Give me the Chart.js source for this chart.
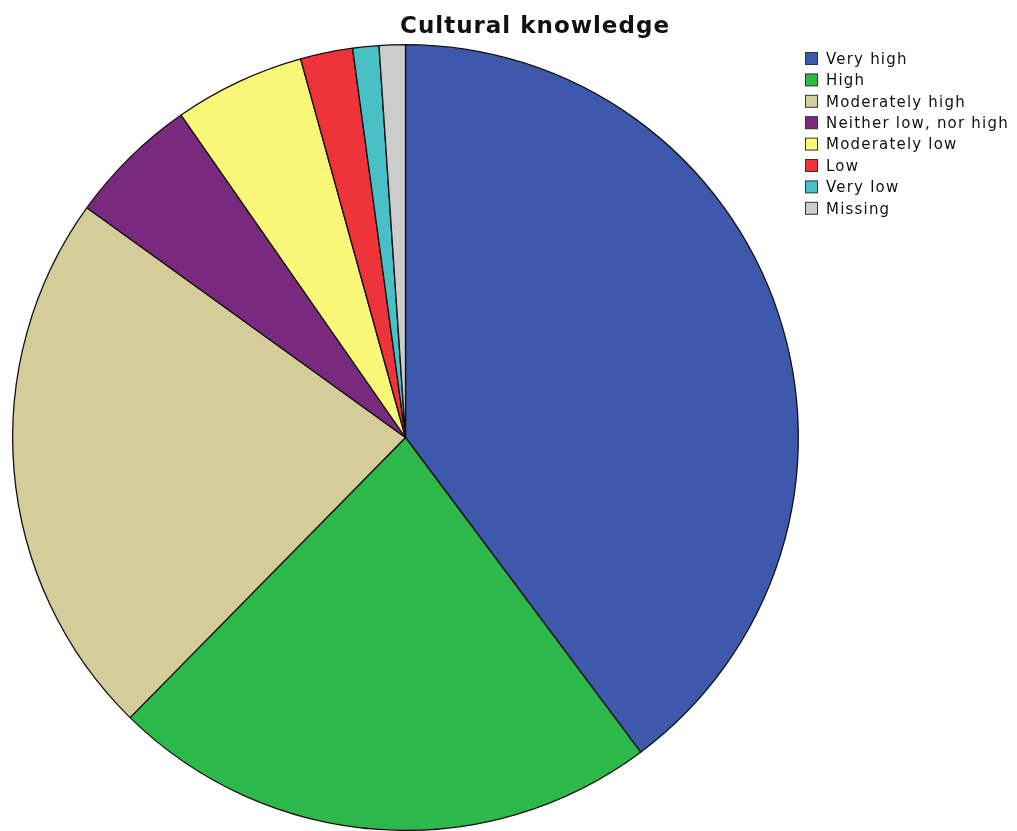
<!DOCTYPE html>
<html>
<head>
<meta charset="utf-8">
<script src="https://cdn.jsdelivr.net/npm/chart.js@4"></script>
<style>
  body { margin: 0; background: #ffffff; }
  #box { width: 1017px; height: 831px; }
</style>
</head>
<body>
<div id="box"><canvas id="myChart" width="1017" height="831"></canvas></div>
<script>

var titleText = "Cultural knowledge";
var labels = ["Very high", "High", "Moderately high", "Neither low, nor high", "Moderately low", "Low", "Very low", "Missing"];
var counts = [37, 21, 21, 5, 5, 2, 1, 1];
var colors = ["#3e58ab", "#2db84a", "#d4cd9a", "#7a2a7e", "#f8f778", "#ee333a", "#48c0c6", "#cccccc"];

// title + legend drawn on the canvas
var extras = {
  id: "extras",
  afterDraw: function (chart) {
    var ctx = chart.ctx;
    ctx.save();
    ctx.fillStyle = "#111111";
    ctx.font = "bold 23px 'DejaVu Sans'";
    ctx.letterSpacing = "1px";
    ctx.textAlign = "center";
    ctx.textBaseline = "middle";
    ctx.fillText(titleText, 535, 27);

    ctx.font = "15px 'DejaVu Sans'";
    ctx.letterSpacing = "1.2px";
    ctx.textAlign = "left";
    for (var i = 0; i < labels.length; i++) {
      var y = 59 + i * 21.4;
      ctx.fillStyle = colors[i];
      ctx.fillRect(805.5, y - 6.5, 12, 12);
      ctx.strokeStyle = "#333333";
      ctx.lineWidth = 1;
      ctx.strokeRect(805.5, y - 6.5, 12, 12);
      ctx.fillStyle = "#111111";
      ctx.fillText(labels[i], 826, y + 1);
    }
    ctx.restore();
  }
};

function init() {
  var ctx = document.getElementById("myChart").getContext("2d");
  var chart = new Chart(ctx, {
    type: "pie",
    data: {
      labels: labels,
      datasets: [{
        data: counts,
        backgroundColor: colors,
        borderColor: "#111111",
        borderWidth: 1.3
      }]
    },
    options: {
      responsive: false,
      animation: false,
      layout: { padding: { left: 12, top: 44, right: 218, bottom: 0 } },
      plugins: {
        legend: { display: false },
        title: { display: false },
        tooltip: { enabled: false }
      }
    },
    plugins: [extras]
  });
}

init();
</script>
</body>
</html>
